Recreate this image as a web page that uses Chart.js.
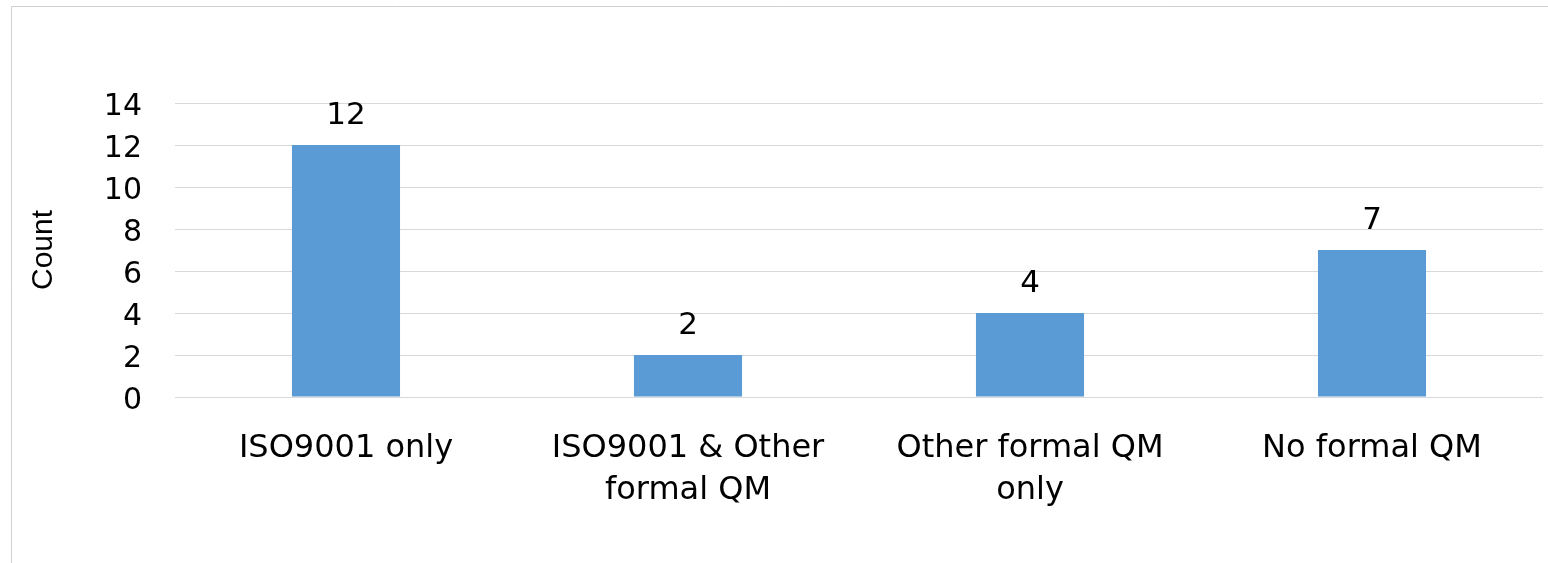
<!DOCTYPE html>
<html lang="en">
<head>
    <meta charset="UTF-8">
    <title>QM count</title>
    <script src="https://cdn.jsdelivr.net/npm/chart.js"></script>
    <style>
        html, body { margin: 0; padding: 0; background: #fff; }
        #wrap { width: 1548px; height: 563px; position: relative; }
    </style>
</head>
<body>
<div id="wrap"><canvas id="qmChart"></canvas></div>
<script>
    const categories = [['ISO9001 only'], ['ISO9001 & Other', 'formal QM'], ['Other formal QM', 'only'], ['No formal QM']];
    const counts = [12, 2, 4, 7];
    const yTicks = [0, 2, 4, 6, 8, 10, 12, 14];

    const font = 'DejaVu Sans';

    // values written above each bar
    const valueLabels = {
        id: 'valueLabels',
        afterDatasetsDraw(chart) {
            const ctx = chart.ctx;
            const meta = chart.getDatasetMeta(0);
            ctx.save();
            ctx.font = '31px "' + font + '"';
            ctx.fillStyle = '#000';
            ctx.textAlign = 'center';
            ctx.textBaseline = 'alphabetic';
            meta.data.forEach((bar, i) => {
                ctx.fillText(String(counts[i]), bar.x, bar.y - 21);
            });
            ctx.restore();
        }
    };

    // thin frame round the chart, like the spreadsheet chart box
    const frame = {
        id: 'frame',
        beforeDraw(chart) {
            const ctx = chart.ctx;
            ctx.save();
            ctx.strokeStyle = '#d0d0d0';
            ctx.lineWidth = 1;
            ctx.beginPath();
            ctx.moveTo(11.5, chart.height);
            ctx.lineTo(11.5, 6.5);
            ctx.lineTo(chart.width, 6.5);
            ctx.stroke();
            ctx.restore();
        }
    };

    const ctx = document.getElementById('qmChart').getContext('2d');
    new Chart(ctx, {
        type: 'bar',
        data: {
            labels: categories,
            datasets: [{
                data: counts,
                backgroundColor: '#5B9BD5',
                barPercentage: 1,
                categoryPercentage: 0.316
            }]
        },
        options: {
            responsive: true,
            maintainAspectRatio: false,
            animation: false,
            layout: { padding: { top: 103, right: 5, left: 0, bottom: 0 } },
            plugins: {
                legend: { display: false },
                tooltip: { enabled: false }
            },
            scales: {
                x: {
                    grid: { display: false, drawTicks: false },
                    border: { display: false },
                    ticks: {
                        color: '#000',
                        font: { family: font, size: 32, lineHeight: 1.3125 },
                        padding: 31,
                        maxRotation: 0,
                        autoSkip: false
                    },
                    afterFit(scale) { scale.height = 166; }
                },
                y: {
                    min: 0,
                    max: 14,
                    afterBuildTicks(scale) { scale.ticks = yTicks.map(v => ({ value: v })); },
                    grid: { color: '#d9d9d9', lineWidth: 1, drawTicks: false },
                    border: { display: false },
                    ticks: {
                        color: '#000',
                        font: { family: font, size: 30 },
                        padding: 33,
                        labelOffset: 4
                    },
                    title: {
                        display: true,
                        text: 'Count',
                        color: '#000',
                        font: { family: '"Liberation Sans Narrow", "Liberation Sans"', size: 30 },
                        padding: { top: 26, bottom: 0 }
                    },
                    afterFit(scale) { scale.width = 175; }
                }
            }
        },
        plugins: [valueLabels, frame]
    });
</script>
</body>
</html>
